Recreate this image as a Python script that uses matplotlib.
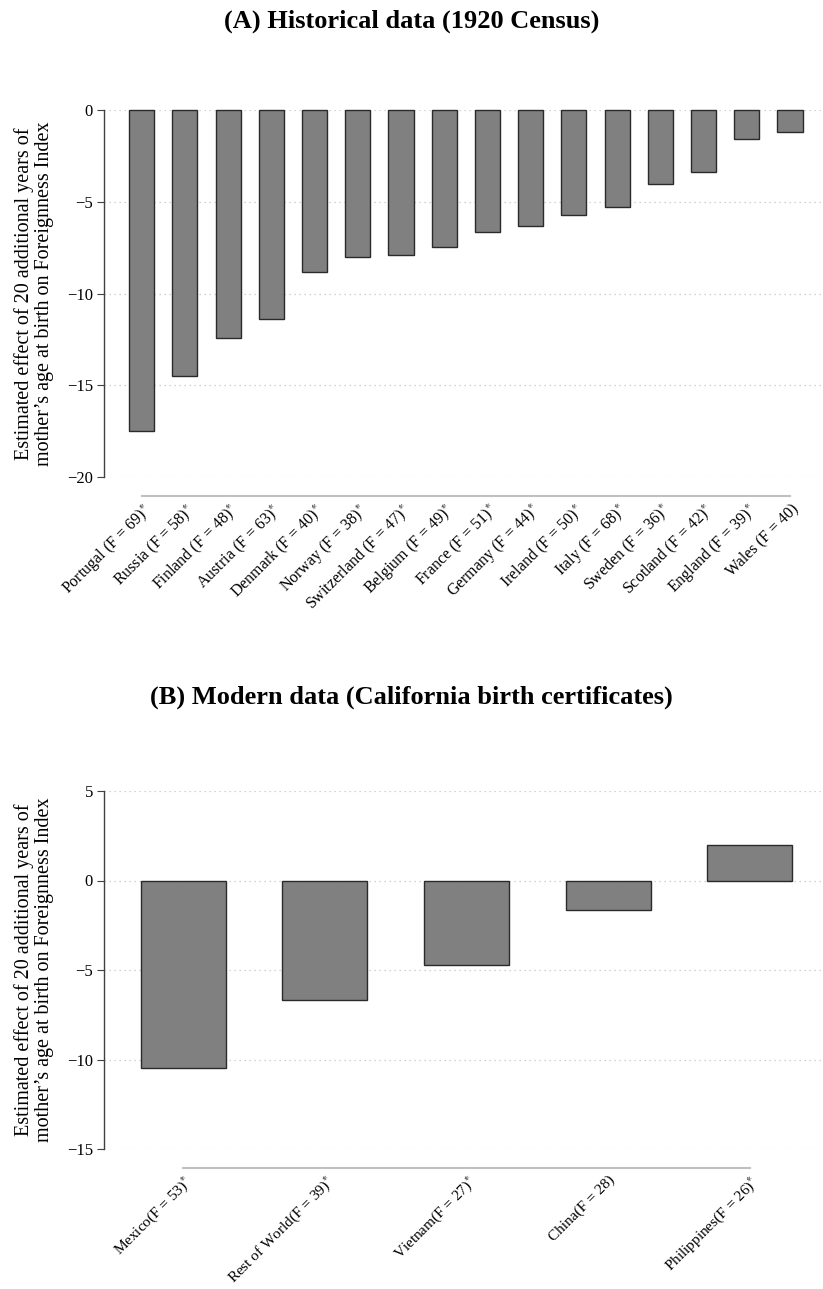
import matplotlib.pyplot as plt
import numpy as np

# Panel A: 1920 Census, estimates by country of origin
hist_countries = ["Portugal", "Russia", "Finland", "Austria", "Denmark", "Norway",
                  "Switzerland", "Belgium", "France", "Germany", "Ireland", "Italy",
                  "Sweden", "Scotland", "England", "Wales"]
hist_f = [69, 58, 48, 63, 40, 38, 47, 49, 51, 44, 50, 68, 36, 42, 39, 40]
hist_sig = [True] * 15 + [False]
hist_effect = [-17.5, -14.5, -12.45, -11.4, -8.85, -8.0, -7.9, -7.45,
               -6.65, -6.3, -5.7, -5.3, -4.05, -3.4, -1.6, -1.2]

# Panel B: California birth certificates
mod_countries = ["Mexico", "Rest of World", "Vietnam", "China", "Philippines"]
mod_f = [53, 39, 27, 28, 26]
mod_sig = [True, True, True, False, True]
mod_effect = [-10.5, -6.65, -4.7, -1.65, 2.0]

plt.rcParams['font.family'] = ['Liberation Serif', 'DejaVu Serif']
plt.rcParams['mathtext.fontset'] = 'stix'

YLABEL = "Estimated effect of 20 additional years of\nmother\u2019s age at birth on Foreignness Index"


def make_labels(names, fvals, sig, sep):
    labels = []
    for n, f, s in zip(names, fvals, sig):
        lab = n + sep + "(F = %d)" % f
        if s:
            lab += "$^{*}$"
        labels.append(lab)
    return labels


def draw_panel(ax, labels, values, width, xlim, yticks, lab_size):
    x = np.arange(len(values))
    # spine placement first: moving a spine resets the tick labels
    for side in ['top', 'right']:
        ax.spines[side].set_visible(False)
    ax.spines['bottom'].set_position(('outward', 14))
    ax.spines['bottom'].set_bounds(x[0], x[-1])
    ax.spines['bottom'].set_color('#c0c0c0')
    ax.spines['bottom'].set_linewidth(1.5)
    ax.spines['left'].set_color('#404040')
    ax.spines['left'].set_linewidth(1.0)
    ax.spines['left'].set_bounds(min(yticks), max(yticks))

    ax.bar(x, values, width=width, color='#808080', edgecolor='#2a2a2a',
           linewidth=1.0, zorder=3, clip_on=False)
    ax.set_xlim(*xlim)
    ax.set_ylim(min(yticks), max(yticks))
    ax.set_yticks(yticks)
    ax.set_yticklabels(["\u2212%d" % -t if t < 0 else "%d" % t for t in yticks],
                       fontsize=12)
    for t in yticks:
        ax.axhline(t, color='#c4c4c4', lw=0.9, ls=(0, (1, 3)), zorder=1)
    ax.set_xticks(x)
    ax.set_xticklabels(labels, rotation=45, ha='right', rotation_mode='anchor',
                       fontsize=lab_size)
    ax.tick_params(axis='x', length=0, pad=3)
    ax.tick_params(axis='y', length=5, width=0.8, color='#404040', pad=3)
    ax.set_ylabel(YLABEL, fontsize=14.5, linespacing=1.1, labelpad=9)


fig = plt.figure(figsize=(8.23, 12.89), dpi=100)
W, H = 823.0, 1289.0

axA = fig.add_axes([104 / W, 1 - 477 / H, 718 / W, 367 / H])
draw_panel(axA, make_labels(hist_countries, hist_f, hist_sig, " "), hist_effect,
           0.58, (-0.87, 15.74), [0, -5, -10, -15, -20], 11.5)

axB = fig.add_axes([104 / W, 1 - 1149 / H, 718 / W, 358 / H])
draw_panel(axB, make_labels(mod_countries, mod_f, mod_sig, ""), mod_effect,
           0.6, (-0.56, 4.51), [5, 0, -5, -10, -15], 11)

fig.text(0.5, 1 - 21 / H, "(A) Historical data (1920 Census)", ha='center',
         va='center', fontsize=19, fontweight='bold')
fig.text(0.5, 1 - 697 / H, "(B) Modern data (California birth certificates)",
         ha='center', va='center', fontsize=19, fontweight='bold')

fig.savefig("out.png", dpi=100)
